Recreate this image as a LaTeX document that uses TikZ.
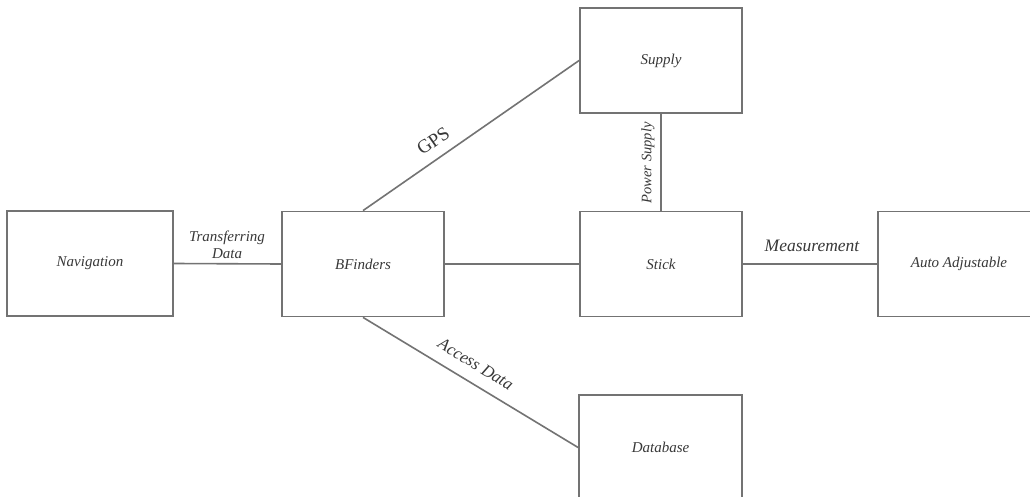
\documentclass[tikz,border=0pt]{standalone}
\usepackage{fontspec}
\setmainfont{Liberation Serif}
\begin{document}
\begin{tikzpicture}[x=1pt,y=-1pt,
  blk/.style={draw=linegray, line width=1.8pt, minimum width=162pt, minimum height=105pt,
    inner sep=0pt, font=\fontsize{15}{17}\selectfont\itshape, text=txtgray},
  conn/.style={draw=linegray, line width=1.6pt},
  lbl/.style={font=\fontsize{16}{18}\selectfont\itshape, text=txtgray, inner sep=1pt}]
\definecolor{linegray}{gray}{0.45}
\definecolor{txtgray}{gray}{0.22}
\useasboundingbox (0,0) rectangle (1030,497);
\clip (0,0) rectangle (1030,497);
\fill[white] (0,0) rectangle (1030,497);
\node[blk, minimum width=166pt] (nav) at (90,263.5) {Navigation};
\node[blk] (bf) at (363,264) {BFinders};
\node[blk] (sup) at (661,60.5) {Supply};
\node[blk] (stick) at (661,264) {Stick};
\node[blk] (auto) at (959,264) {Auto Adjustable};
\node[blk, minimum width=163pt] (db) at (660.5,447.5) {Database};
\draw[conn] (bf.north) -- node[lbl, pos=0.37, sloped, above=9pt, font=\fontsize{19}{21}\selectfont] (gps) {GPS} (sup.west);
\draw[conn] (bf.south) -- node[lbl, pos=0.48, sloped, above=11pt, font=\fontsize{17}{19}\selectfont\itshape] (acc) {Access Data} (db.west);
\draw[conn] (nav.east) -- (bf.west);
\draw[conn] (bf.east) -- (stick.west);
\draw[conn] (sup.south) -- (stick.north);
\draw[conn] (stick.east) -- (auto.west);
\node[lbl, align=center, font=\fontsize{15}{17}\selectfont\itshape] (tr) at (227,245) {Transferring\\Data};
\node[lbl, rotate=90, font=\fontsize{14.5}{16}\selectfont\itshape] (ps) at (648,163) {Power Supply};
\node[lbl, font=\fontsize{17.5}{19}\selectfont\itshape] (meas) at (812,246) {Measurement};
\end{tikzpicture}
\end{document}
